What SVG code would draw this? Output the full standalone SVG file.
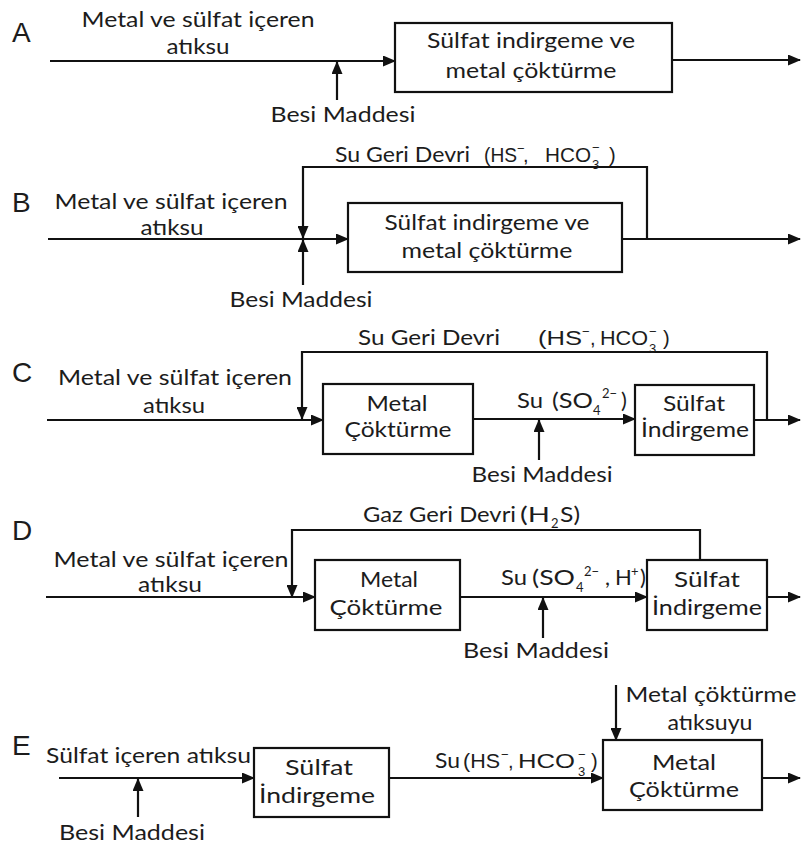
<svg xmlns="http://www.w3.org/2000/svg" width="802" height="850" viewBox="0 0 802 850">
<defs>
<marker id="ah" markerUnits="userSpaceOnUse" markerWidth="13" markerHeight="11" refX="12" refY="5.5" orient="auto">
<path d="M0,0 L13,5.5 L0,11 z" fill="#111"/>
</marker>
<style>
.t{font-family:Lato,"Open Sans","Noto Sans",sans-serif;font-size:22px;fill:#1c1c1c}
.c{text-anchor:middle}
.ar{font-family:"Liberation Sans",Arial,sans-serif;font-size:20px;fill:#1c1c1c}
.t.sm,.ar.sm{font-size:13px}
.L{font-family:"Liberation Sans",Arial,sans-serif;font-size:28px;fill:#1c1c1c}
.box{fill:#fff;stroke:#111;stroke-width:2.2}
.arw{fill:none;stroke:#111;stroke-width:2.2;marker-end:url(#ah)}
</style>
</defs>
<rect width="802" height="850" fill="#fff"/>

<g id="letters">
<text class="L" x="12" y="42">A</text>
<text class="L" x="12" y="212">B</text>
<text class="L" x="12" y="382">C</text>
<text class="L" x="12" y="540">D</text>
<text class="L" x="12" y="755">E</text>
</g>

<g id="connectors">
<path class="arw" d="M50,61 H395"/>
<path class="arw" d="M337,100 V62"/>
<path class="arw" d="M672,60 H800"/>
<path class="arw" d="M48,239 H348"/>
<path class="arw" d="M647,239 V167 H303 V238"/>
<path class="arw" d="M303,285 V240"/>
<path class="arw" d="M622,239 H800"/>
<path class="arw" d="M47,420 H323"/>
<path class="arw" d="M767,420 V352 H302 V419"/>
<path class="arw" d="M473,419 H635"/>
<path class="arw" d="M539,460 V420"/>
<path class="arw" d="M754,420 H800"/>
<path class="arw" d="M46,597 H315"/>
<path class="arw" d="M700,560 V530 H292 V597"/>
<path class="arw" d="M460,597 H647"/>
<path class="arw" d="M543,638 V598"/>
<path class="arw" d="M767,597 H800"/>
<path class="arw" d="M59,778 H254"/>
<path class="arw" d="M138,817 V779"/>
<path class="arw" d="M389,778 H603"/>
<path class="arw" d="M616,685 V740"/>
<path class="arw" d="M762,778 H800"/>
</g>

<!-- Panel A -->
<g id="A-input">
<text class="t c" x="198" y="27" textLength="233" lengthAdjust="spacingAndGlyphs">Metal ve sülfat içeren</text>
<text class="t c" x="198" y="54" textLength="63" lengthAdjust="spacingAndGlyphs">atıksu</text>
</g>
<g id="A-besi"><text class="t c" x="343" y="122" textLength="145" lengthAdjust="spacingAndGlyphs">Besi Maddesi</text></g>
<g id="A-reactor">
<rect class="box" x="395" y="23" width="277" height="69"/>
<text class="t c" x="531" y="48" textLength="208" lengthAdjust="spacingAndGlyphs">Sülfat indirgeme ve</text>
<text class="t c" x="531" y="78" textLength="171" lengthAdjust="spacingAndGlyphs">metal çöktürme</text>
</g>

<!-- Panel B -->
<g id="B-input">
<text class="t c" x="171" y="209" textLength="233" lengthAdjust="spacingAndGlyphs">Metal ve sülfat içeren</text>
<text class="t c" x="172" y="235" textLength="63" lengthAdjust="spacingAndGlyphs">atıksu</text>
</g>
<g id="B-besi"><text class="t c" x="301" y="307" textLength="143" lengthAdjust="spacingAndGlyphs">Besi Maddesi</text></g>
<g id="B-recycle">
<text class="t" x="335" y="162" textLength="135" lengthAdjust="spacingAndGlyphs">Su Geri Devri</text>
<text class="ar" x="484" y="162" textLength="33" lengthAdjust="spacingAndGlyphs">(HS</text>
<text class="ar sm" x="517" y="153">−</text>
<text class="ar" x="523" y="162">,</text>
<text class="ar" x="545" y="162" textLength="46" lengthAdjust="spacingAndGlyphs">HCO</text>
<text class="ar sm" x="592" y="169">3</text>
<text class="ar sm" x="592" y="152">−</text>
<text class="ar" x="609" y="162">)</text>
</g>
<g id="B-reactor">
<rect class="box" x="348" y="203" width="274" height="69"/>
<text class="t c" x="487" y="230" textLength="205" lengthAdjust="spacingAndGlyphs">Sülfat indirgeme ve</text>
<text class="t c" x="487" y="258" textLength="171" lengthAdjust="spacingAndGlyphs">metal çöktürme</text>
</g>

<!-- Panel C -->
<g id="C-input">
<text class="t c" x="175" y="385" textLength="234" lengthAdjust="spacingAndGlyphs">Metal ve sülfat içeren</text>
<text class="t c" x="174" y="413" textLength="62" lengthAdjust="spacingAndGlyphs">atıksu</text>
</g>
<g id="C-recycle">
<text class="t" x="358" y="345" textLength="142" lengthAdjust="spacingAndGlyphs">Su Geri Devri</text>
<text class="ar" x="538" y="345" textLength="44" lengthAdjust="spacingAndGlyphs">(HS</text>
<text class="ar sm" x="582" y="336">−</text>
<text class="ar" x="590" y="345">,</text>
<text class="ar" x="600" y="345" textLength="48" lengthAdjust="spacingAndGlyphs">HCO</text>
<text class="ar sm" x="649" y="353">3</text>
<text class="ar sm" x="649" y="336">−</text>
<text class="ar" x="663" y="345">)</text>
</g>
<g id="C-metal">
<rect class="box" x="323" y="384" width="150" height="70"/>
<text class="t c" x="397" y="411" textLength="61" lengthAdjust="spacingAndGlyphs">Metal</text>
<text class="t c" x="398" y="437" textLength="107" lengthAdjust="spacingAndGlyphs">Çöktürme</text>
</g>
<g id="C-water">
<text class="t" x="517" y="408" textLength="26" lengthAdjust="spacingAndGlyphs">Su</text>
<text class="t" x="552" y="408" textLength="41" lengthAdjust="spacingAndGlyphs">(SO</text>
<text class="t sm" x="593" y="415">4</text>
<text class="t sm" x="602" y="398">2−</text>
<text class="t" x="621" y="408">)</text>
</g>
<g id="C-besi"><text class="t c" x="542" y="482" textLength="141" lengthAdjust="spacingAndGlyphs">Besi Maddesi</text></g>
<g id="C-sulfate">
<rect class="box" x="635" y="385" width="119" height="70"/>
<text class="t c" x="694" y="411" textLength="62" lengthAdjust="spacingAndGlyphs">Sülfat</text>
<text class="t c" x="695" y="437" textLength="108" lengthAdjust="spacingAndGlyphs">İndirgeme</text>
</g>

<!-- Panel D -->
<g id="D-input">
<text class="t c" x="171" y="567" textLength="235" lengthAdjust="spacingAndGlyphs">Metal ve sülfat içeren</text>
<text class="t c" x="170" y="592" textLength="64" lengthAdjust="spacingAndGlyphs">atıksu</text>
</g>
<g id="D-recycle">
<text class="t" x="363" y="522" textLength="153" lengthAdjust="spacingAndGlyphs">Gaz Geri Devri</text>
<text class="t" x="520" y="522" textLength="30" lengthAdjust="spacingAndGlyphs">(H</text>
<text class="t sm" x="551" y="528">2</text>
<text class="t" x="560" y="522" textLength="20" lengthAdjust="spacingAndGlyphs">S)</text>
</g>
<g id="D-metal">
<rect class="box" x="315" y="560" width="145" height="70"/>
<text class="t c" x="389" y="587" textLength="58" lengthAdjust="spacingAndGlyphs">Metal</text>
<text class="t c" x="386" y="615" textLength="113" lengthAdjust="spacingAndGlyphs">Çöktürme</text>
</g>
<g id="D-water">
<text class="t" x="501" y="585" textLength="26" lengthAdjust="spacingAndGlyphs">Su</text>
<text class="t" x="532" y="585" textLength="43" lengthAdjust="spacingAndGlyphs">(SO</text>
<text class="t sm" x="576" y="592">4</text>
<text class="t sm" x="584" y="576">2−</text>
<text class="t" x="605" y="585">,</text>
<text class="t" x="615" y="585">H</text>
<text class="t sm" x="631" y="576">+</text>
<text class="t" x="640" y="585">)</text>
</g>
<g id="D-besi"><text class="t c" x="536" y="658" textLength="146" lengthAdjust="spacingAndGlyphs">Besi Maddesi</text></g>
<g id="D-sulfate">
<rect class="box" x="647" y="560" width="120" height="70"/>
<text class="t c" x="707" y="587" textLength="66" lengthAdjust="spacingAndGlyphs">Sülfat</text>
<text class="t c" x="707" y="615" textLength="110" lengthAdjust="spacingAndGlyphs">İndirgeme</text>
</g>

<!-- Panel E -->
<g id="E-input"><text class="t" x="46" y="763" textLength="205" lengthAdjust="spacingAndGlyphs">Sülfat içeren atıksu</text></g>
<g id="E-besi"><text class="t c" x="132" y="840" textLength="146" lengthAdjust="spacingAndGlyphs">Besi Maddesi</text></g>
<g id="E-sulfate">
<rect class="box" x="254" y="748" width="135" height="69"/>
<text class="t c" x="319" y="775" textLength="68" lengthAdjust="spacingAndGlyphs">Sülfat</text>
<text class="t c" x="317" y="803" textLength="116" lengthAdjust="spacingAndGlyphs">İndirgeme</text>
</g>
<g id="E-water">
<text class="t" x="435" y="768" textLength="25" lengthAdjust="spacingAndGlyphs">Su</text>
<text class="ar" x="463" y="768" textLength="37" lengthAdjust="spacingAndGlyphs">(HS</text>
<text class="ar sm" x="501" y="759">−</text>
<text class="ar" x="508" y="768">,</text>
<text class="ar" x="518" y="768" textLength="57" lengthAdjust="spacingAndGlyphs">HCO</text>
<text class="ar sm" x="578" y="776">3</text>
<text class="ar sm" x="578" y="759">−</text>
<text class="ar" x="591" y="768">)</text>
</g>
<g id="E-metalwaste">
<text class="t c" x="711" y="702" textLength="171" lengthAdjust="spacingAndGlyphs">Metal çöktürme</text>
<text class="t c" x="710" y="730" textLength="85" lengthAdjust="spacingAndGlyphs">atıksuyu</text>
</g>
<g id="E-metal">
<rect class="box" x="603" y="740" width="159" height="70"/>
<text class="t c" x="684" y="770" textLength="64" lengthAdjust="spacingAndGlyphs">Metal</text>
<text class="t c" x="684" y="797" textLength="110" lengthAdjust="spacingAndGlyphs">Çöktürme</text>
</g>
</svg>
